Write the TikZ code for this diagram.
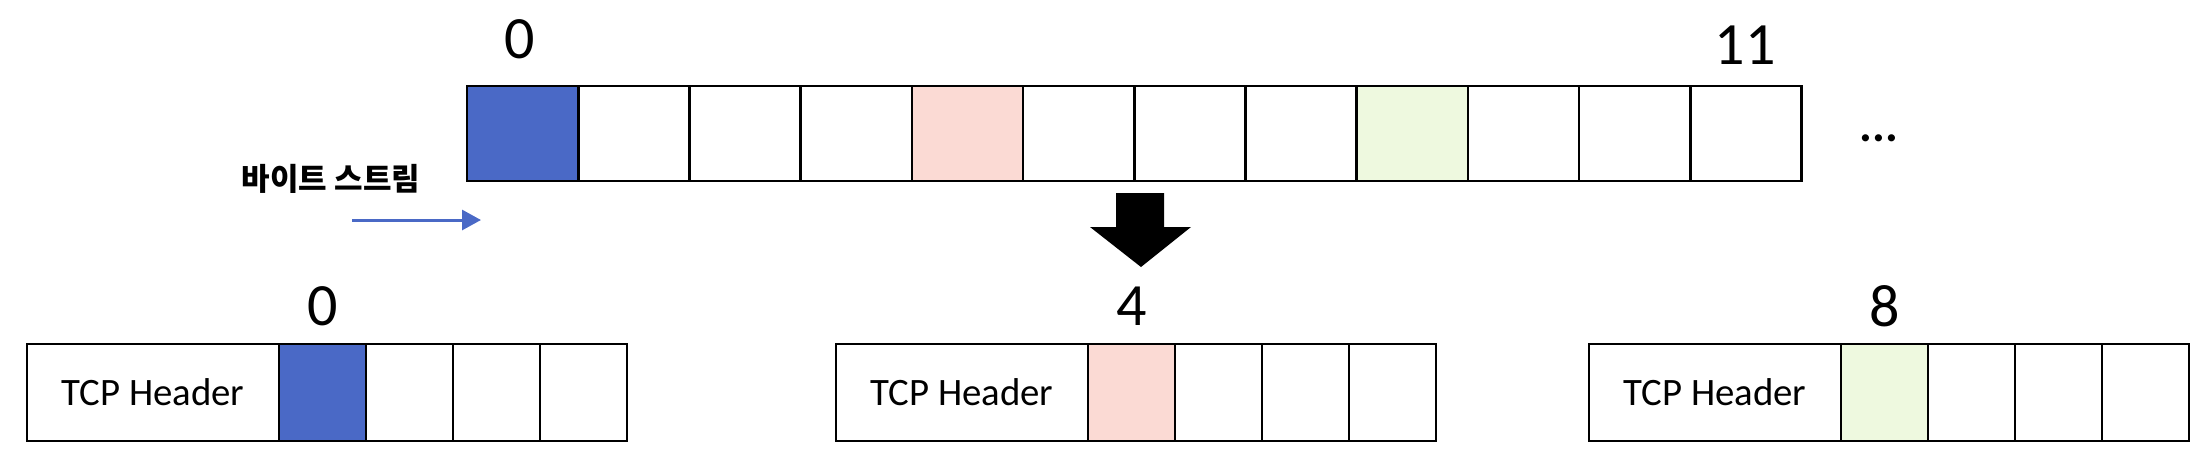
\documentclass[tikz,border=0pt]{standalone}
\usepackage{fontspec}
\setmainfont{Carlito}
\newfontfamily\krfont{Noto Sans CJK KR}
\usetikzlibrary{arrows.meta}
\definecolor{cblue}{HTML}{4A69C6}
\definecolor{cpink}{HTML}{FBDAD4}
\definecolor{cgreen}{HTML}{EEF9DF}
\tikzset{
  cell/.style={draw=black, line width=1.3pt, minimum width=55.6pt, minimum height=47.5pt, inner sep=0pt, outer sep=0pt},
  scell/.style={draw=black, line width=1.3pt, minimum width=43.5pt, minimum height=48.5pt, inner sep=0pt, outer sep=0pt},
  hdr/.style={draw=black, line width=1.3pt, minimum width=126pt, minimum height=48.5pt, inner sep=0pt, outer sep=0pt, font=\fontsize{19.4}{22}\selectfont},
  num/.style={font=\fontsize{30}{34}\selectfont, inner sep=0pt},
}
\begin{document}
\begin{tikzpicture}[x=0.5pt, y=-0.5pt]
\useasboundingbox (0,0) rectangle (2212,468);
% top byte stream
\foreach \i in {0,...,11} {
  \pgfmathsetmacro{\cx}{467+111.2*(\i+0.5)}
  \node[cell] (c\i) at (\cx,133.5) {};
}
\fill[cblue] (c0.north west) rectangle (c0.south east);
\fill[cpink] (c4.north west) rectangle (c4.south east);
\fill[cgreen] (c8.north west) rectangle (c8.south east);
\foreach \i in {0,...,11} { \node[cell] at (c\i) {}; }
\node[num] (t0) at (520,39) {0};
\node[num] (t11) at (1745,45) {11};
\node[font=\fontsize{24}{26}\selectfont\bfseries, inner sep=0pt] (dots) at (1879,138) {...};
% label and blue arrow
\node[font=\krfont\bfseries\fontsize{15.5}{18}\selectfont, inner sep=0pt] (lbl) at (331,179) {바이트 스트림};
\coordinate (bs) at (352,220);
\coordinate (be) at (481,220);
\draw[cblue, line width=1.5pt, -{Triangle[length=9.5pt,width=10pt]}] (bs) -- (be);
% big black arrow
\fill[black] (1116,193) -- (1164,193) -- (1164,227) -- (1191,227) -- (1141,267) -- (1090,227) -- (1116,227) -- cycle;
% bottom segments
\foreach \b/\L/\col/\n in {1/27/cblue/0, 2/836/cpink/4, 3/1589/cgreen/8} {
  \node[hdr] (h\b) at ({\L+126},392.5) {TCP Header};
  \foreach \k in {0,...,3} {
    \node[scell] (s\b\k) at ({\L+252+87*(\k+0.5)},392.5) {};
  }
  \fill[\col] (s\b0.north west) rectangle (s\b0.south east);
  \node[scell] at (s\b0) {};
  \node[num] (n\b) at ({\L+252+43.5},306) {\n};
}
\end{tikzpicture}
\end{document}
